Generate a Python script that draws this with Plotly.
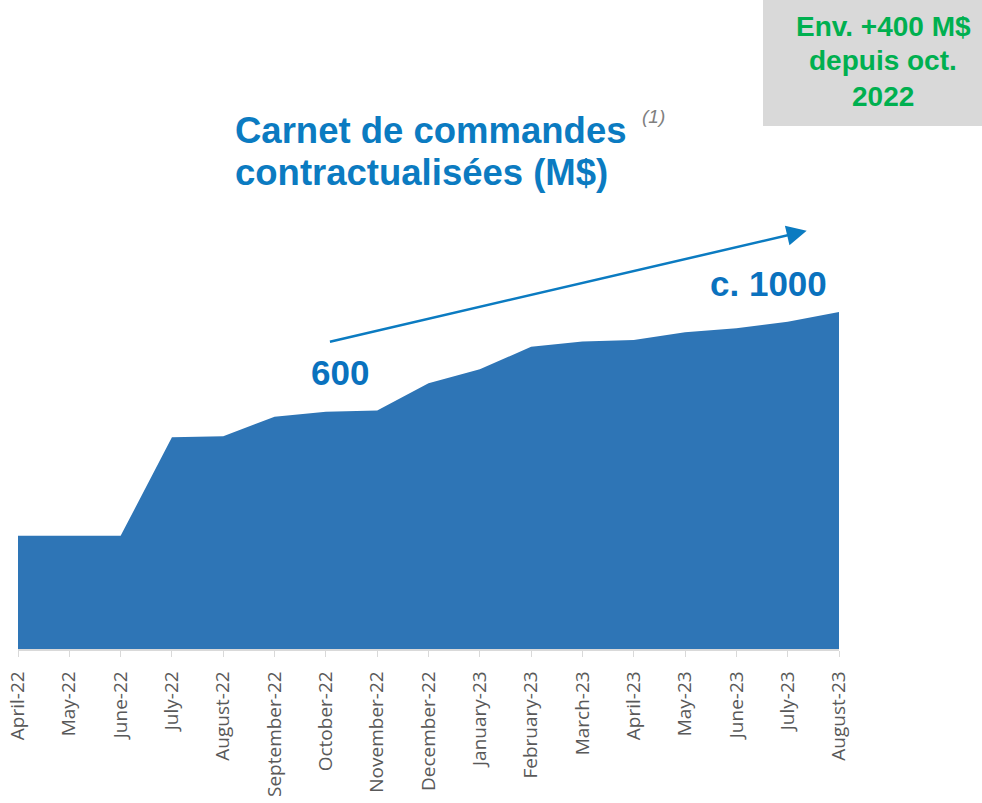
import plotly.graph_objects as go

months = ["April-22", "May-22", "June-22", "July-22", "August-22", "September-22",
          "October-22", "November-22", "December-22", "January-23", "February-23",
          "March-23", "April-23", "May-23", "June-23", "July-23", "August-23"]
backlog = [286, 286, 286, 535, 538, 587, 600, 603, 672, 707, 764, 777, 781, 801, 811, 827, 852]

W, H = 982, 803
OFF = 0  # page offset of the figure (body margin removed below)
L, R, T, B = 18 - OFF, 982 - 839 + OFF, 200 - OFF, 803 - 649 + OFF
PW, PH = W - L - R, H - T - B
YMAX = 1135


def px(x):
    return (x - OFF - L) / PW


def py(y):
    return (H - B - (y - OFF)) / PH


fig = go.Figure()
fig.add_trace(go.Scatter(
    x=months, y=backlog, mode="lines", fill="tozeroy",
    line=dict(width=0, color="#2E75B6"), fillcolor="#2E75B6",
    hoverinfo="x+y", showlegend=False,
))

FONT = "Liberation Sans, Arial, sans-serif"
title_col = "#0B7BC1"
num_col = "#0A72BE"
green = "#00B050"

ann = []
ann.append(dict(text="<b>Carnet de commandes</b>", x=px(233), y=py(130.5), xref="paper", yref="paper",
                xanchor="left", yanchor="middle", showarrow=False,
                font=dict(family=FONT, size=36.5, color=title_col)))
ann.append(dict(text="<b>contractualisées (M$)</b>", x=px(233), y=py(172.5), xref="paper", yref="paper",
                xanchor="left", yanchor="middle", showarrow=False,
                font=dict(family=FONT, size=36.5, color=title_col)))
ann.append(dict(text="<i>(1)</i>", x=px(653), y=py(116), xref="paper", yref="paper",
                xanchor="center", yanchor="middle", showarrow=False,
                font=dict(family=FONT, size=19, color="#808080")))
ann.append(dict(text="<b>600</b>", x=px(340), y=py(372), xref="paper", yref="paper",
                xanchor="center", yanchor="middle", showarrow=False,
                font=dict(family=FONT, size=35, color=num_col)))
ann.append(dict(text="<b>c. 1000</b>", x=px(768), y=py(283), xref="paper", yref="paper",
                xanchor="center", yanchor="middle", showarrow=False,
                font=dict(family=FONT, size=35, color=num_col)))
for txt, yy in [("Env. +400 M$", 26.9), ("depuis oct.", 60.9), ("2022", 96.2)]:
    ann.append(dict(text="<b>" + txt + "</b>", x=px(883), y=py(yy), xref="paper", yref="paper",
                    xanchor="center", yanchor="middle", showarrow=False,
                    font=dict(family=FONT, size=28, color=green)))

# trend arrow (data coordinates: category index, value)
ann.append(dict(text="", x=15.37, y=1057, xref="x", yref="y",
                ax=6.05, ay=776, axref="x", ayref="y",
                showarrow=True, arrowhead=2, arrowsize=1.6, arrowwidth=2.5,
                arrowcolor="#0B7BC1", standoff=0, startstandoff=0))

fig.update_layout(
    width=W, height=H,
    margin=dict(l=L, r=R, t=T, b=B, pad=0),
    paper_bgcolor="white", plot_bgcolor="white",
    annotations=ann,
    shapes=[dict(type="rect", xref="paper", yref="paper",
                 x0=px(763), x1=px(1000), y0=py(126), y1=py(-10),
                 fillcolor="#D9D9D9", line=dict(width=0), layer="below")],
    xaxis=dict(
        type="category", range=[0, 16], showgrid=False, zeroline=False,
        showline=True, linecolor="#D9D9D9", linewidth=1.5,
        ticks="outside", ticklen=6, tickwidth=1, tickcolor="#D9D9D9",
        tickangle=-90, automargin=False, ticklabelstandoff=7,
        tickfont=dict(family="Open Sans, sans-serif", size=19, color="#595959"),
    ),
    yaxis=dict(range=[0, YMAX], visible=False, showgrid=False, zeroline=False),
)

fig.write_html("out.html", config={"displayModeBar": False},
               post_script="document.body.style.margin='0px';document.body.style.overflow='hidden';")
